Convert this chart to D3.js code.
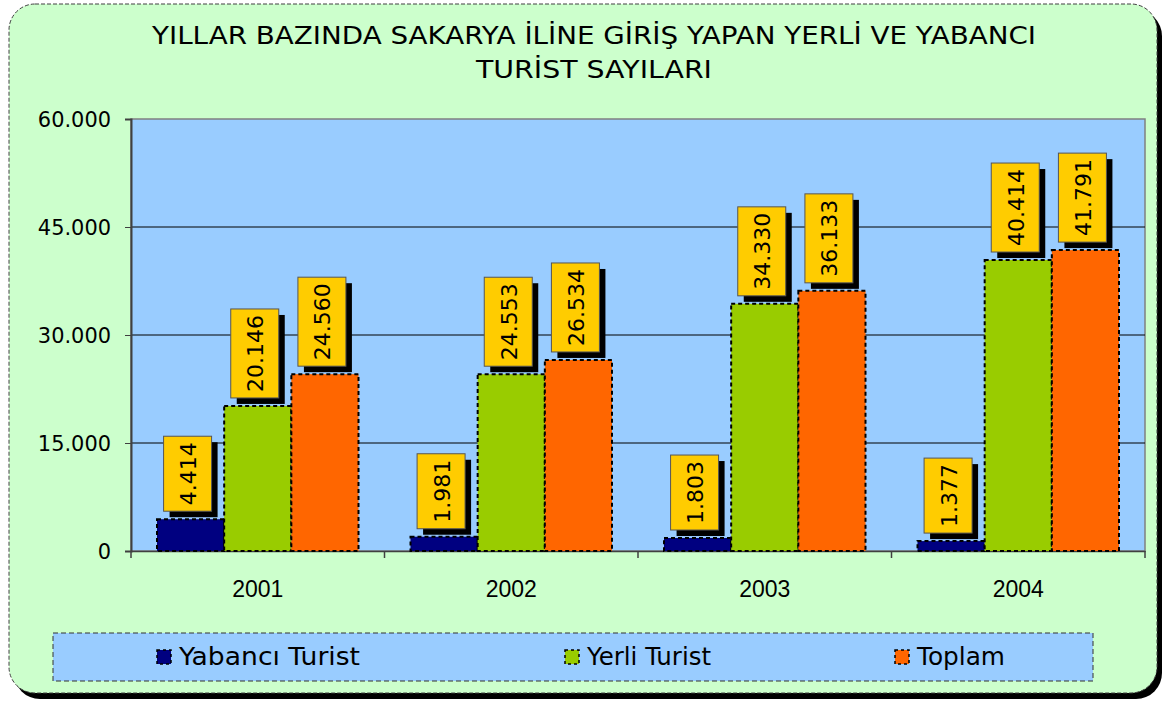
<!DOCTYPE html>
<html>
<head>
<meta charset="utf-8">
<script src="https://cdn.jsdelivr.net/npm/d3@7"></script>
<style>
  html, body { margin: 0; padding: 0; background: #ffffff; }
  svg { display: block; }
</style>
</head>
<body>
<div id="chart"></div>
<script>
const years = ['2001', '2002', '2003', '2004'];
const seriesNames = ['Yabancı Turist', 'Yerli Turist', 'Toplam'];
const yabanci = [4414, 1981, 1803, 1377];
const yerli = [20146, 24553, 34330, 40414];
const toplam = [24560, 26534, 36133, 41791];
const yTicks = [0, 15000, 30000, 45000, 60000];
const titleLines = ['YILLAR BAZINDA SAKARYA İLİNE GİRİŞ YAPAN YERLİ VE YABANCI', 'TURİST SAYILARI'];
const colors = ['#000080', '#99CC00', '#FF6600'];

const width = 1166, height = 702;
const plot = { left: 131, right: 1145, top: 119, bottom: 551 };
const mainFont = '"DejaVu Sans", sans-serif';

const trLocale = d3.formatLocale({ decimal: ',', thousands: '.', grouping: [3], currency: ['', ' TL'] });
const fmt = trLocale.format(',d');

const values = [yabanci, yerli, toplam];
const data = years.map((y, i) => ({
    year: y,
    items: seriesNames.map((s, j) => ({ series: s, idx: j, value: values[j][i] }))
}));

const svg = d3.select('#chart').append('svg')
    .attr('width', width)
    .attr('height', height);

// outer frame with shadow
svg.append('rect')
    .attr('x', 14).attr('y', 10)
    .attr('width', 1148).attr('height', 689)
    .attr('rx', 26)
    .attr('fill', '#000');
svg.append('rect')
    .attr('x', 9).attr('y', 4)
    .attr('width', 1148).attr('height', 689)
    .attr('rx', 26)
    .attr('fill', '#CCFFCC')
    .attr('stroke', '#404040')
    .attr('stroke-width', 1)
    .attr('stroke-dasharray', '4,2');

// title
svg.selectAll('text.title')
    .data(titleLines)
    .enter()
    .append('text')
    .attr('class', 'title')
    .attr('x', 594)
    .attr('y', (d, i) => 44 + i * 34)
    .attr('text-anchor', 'middle')
    .attr('font-family', mainFont)
    .attr('font-size', 24)
    .attr('fill', '#000')
    .attr('textLength', (d, i) => i === 0 ? 884 : 236)
    .attr('lengthAdjust', 'spacingAndGlyphs')
    .text(d => d);

// plot area
svg.append('rect')
    .attr('x', plot.left).attr('y', plot.top)
    .attr('width', plot.right - plot.left)
    .attr('height', plot.bottom - plot.top)
    .attr('fill', '#99CCFF')
    .attr('stroke', '#808080')
    .attr('stroke-width', 1.5);

const xScale = d3.scaleBand()
    .domain(years)
    .range([plot.left, plot.right]);

const xInner = d3.scaleBand()
    .domain(seriesNames)
    .range([26, xScale.bandwidth() - 26]);

const yScale = d3.scaleLinear()
    .domain([0, 60000])
    .range([plot.bottom, plot.top]);

// gridlines
svg.append('g')
    .selectAll('line')
    .data(yTicks.filter(t => t > 0 && t < 60000))
    .enter()
    .append('line')
    .attr('x1', plot.left).attr('x2', plot.right)
    .attr('y1', d => yScale(d)).attr('y2', d => yScale(d))
    .attr('stroke', '#000')
    .attr('stroke-width', 1);

// y axis
const yAxis = svg.append('g')
    .attr('transform', `translate(${plot.left}, 0)`)
    .call(d3.axisLeft(yScale).tickValues(yTicks).tickFormat(fmt).tickSize(6).tickPadding(14));
yAxis.select('.domain').attr('stroke', '#404040').attr('stroke-width', 2);
yAxis.selectAll('.tick line').attr('stroke', '#404040');
yAxis.selectAll('.tick text')
    .attr('font-family', mainFont)
    .attr('font-size', 22)
    .attr('fill', '#000')
    .attr('textLength', function () { return this.getComputedTextLength() * 0.95; })
    .attr('lengthAdjust', 'spacingAndGlyphs');

// x axis
const xAxis = svg.append('g')
    .attr('transform', `translate(0, ${plot.bottom})`)
    .call(d3.axisBottom(xScale).tickSize(0).tickPadding(30));
xAxis.select('.domain').attr('stroke', '#404040').attr('stroke-width', 1.5);
xAxis.selectAll('.tick text')
    .attr('font-family', '"Liberation Sans", Arial, sans-serif')
    .attr('font-size', 23)
    .attr('fill', '#000');
xAxis.selectAll('line.sep')
    .data(d3.range(years.length + 1))
    .enter()
    .append('line')
    .attr('class', 'sep')
    .attr('x1', i => plot.left + i * xScale.bandwidth())
    .attr('x2', i => plot.left + i * xScale.bandwidth())
    .attr('y1', 0).attr('y2', 7)
    .attr('stroke', '#404040')
    .attr('stroke-width', 1.5);

// bars
const groups = svg.selectAll('g.year')
    .data(data)
    .enter()
    .append('g')
    .attr('class', 'year')
    .attr('transform', d => `translate(${xScale(d.year)}, 0)`);

groups.selectAll('rect.bar')
    .data(d => d.items)
    .enter()
    .append('rect')
    .attr('class', 'bar')
    .attr('x', d => xInner(d.series))
    .attr('y', d => yScale(d.value))
    .attr('width', xInner.bandwidth())
    .attr('height', d => plot.bottom - yScale(d.value))
    .attr('fill', d => colors[d.idx])
    .attr('stroke', '#000')
    .attr('stroke-width', 2)
    .attr('stroke-dasharray', '4,3');

// value labels
const labels = groups.selectAll('g.lbl')
    .data(d => d.items)
    .enter()
    .append('g')
    .attr('class', 'lbl');

labels.each(function (d) {
    const g = d3.select(this);
    const cx = xInner(d.series) + xInner.bandwidth() / 2 - 3;
    const bottom = yScale(d.value) - 8;
    const txt = g.append('text')
        .attr('font-family', mainFont)
        .attr('font-size', 22)
        .attr('fill', '#000')
        .attr('text-anchor', 'middle')
        .attr('dominant-baseline', 'central')
        .text(fmt(d.value));
    const len = txt.node().getComputedTextLength();
    const h = len + 12, w = 48;
    const top = bottom - h;
    g.insert('rect', 'text')
        .attr('x', cx - w / 2 + 6).attr('y', top + 6)
        .attr('width', w).attr('height', h)
        .attr('fill', '#000');
    g.insert('rect', 'text')
        .attr('x', cx - w / 2).attr('y', top)
        .attr('width', w).attr('height', h)
        .attr('fill', '#FFCC00')
        .attr('stroke', '#555')
        .attr('stroke-width', 1);
    txt.attr('transform', `translate(${cx + 1}, ${top + h / 2}) rotate(-90)`);
});

// legend
svg.append('rect')
    .attr('x', 53).attr('y', 633)
    .attr('width', 1040).attr('height', 48)
    .attr('fill', '#99CCFF')
    .attr('stroke', '#333')
    .attr('stroke-width', 1)
    .attr('stroke-dasharray', '5,3');

const legendX = [157, 565, 895];
const legendLen = [181, 124, 88];
const legend = svg.selectAll('g.legend')
    .data(seriesNames)
    .enter()
    .append('g')
    .attr('class', 'legend')
    .attr('transform', (d, i) => `translate(${legendX[i]}, 657)`);

legend.append('rect')
    .attr('x', 0).attr('y', -7)
    .attr('width', 14).attr('height', 14)
    .attr('fill', (d, i) => colors[i])
    .attr('stroke', '#000')
    .attr('stroke-width', 1.5)
    .attr('stroke-dasharray', '3,3');

legend.append('text')
    .attr('x', 22)
    .attr('y', 0)
    .attr('dominant-baseline', 'central')
    .attr('font-family', mainFont)
    .attr('font-size', 24)
    .attr('fill', '#000')
    .attr('textLength', (d, i) => legendLen[i])
    .attr('lengthAdjust', 'spacingAndGlyphs')
    .text(d => d);
</script>
</body>
</html>
